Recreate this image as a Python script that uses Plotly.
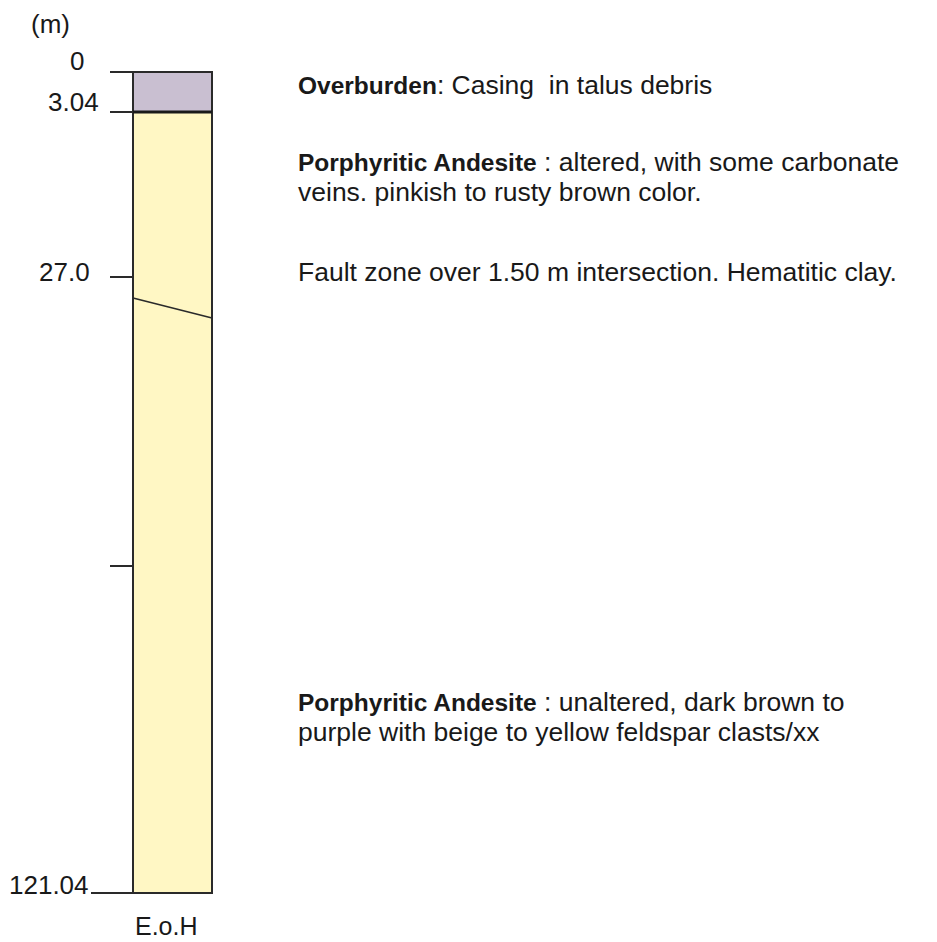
import plotly.graph_objects as go

# ---------------- data ----------------
# schematic log positions (drawing units down the hole) and their depth labels (m)
tick_pos = [0, 40, 205, 494, 821]
tick_labels = ["0", "3.04", "27.0", "", "121.04"]

# lithological units (top / base in schematic log units)
unit_names = ["Overburden", "Porphyritic Andesite"]
unit_top = [0, 40]
unit_base = [40, 821]
unit_colors = ["#c9bfd1", "#fff7c4"]

# fault trace across the column (left edge / right edge)
fault_x = [0, 1]
fault_y = [226, 246]

# descriptions: (log position of line, bold part, rest)
desc_pos = [13, 90, 120, 200, 630, 660]
desc_bold = ["Overburden", "Porphyritic Andesite", "", "", "Porphyritic Andesite", ""]
desc_text = [": Casing  in talus debris",
             " : altered, with some carbonate",
             "veins. pinkish to rusty brown color.",
             "Fault zone over 1.50 m intersection. Hematitic clay.",
             " : unaltered, dark brown to",
             "purple with beige to yellow feldspar clasts/xx"]

# ---------------- layout geometry (pixels) ----------------
W, H = 937, 942
PL, PR, PT, PB = 120, 225, 50, 915        # plot area
CL, CR, CT, CB = 133, 212, 72, 893         # column box
xu = CR - CL
x_range = [-(CL - PL) / xu, 1 + (PR - CR) / xu]
y_range = [PB - CT, PT - CT]               # reversed, 1 unit = 1 px


def px_x(px):
    return (px - PL) / (PR - PL)


def px_y(py):
    return (PB - py) / (PB - PT)


FONT = "Liberation Sans, Arial, Helvetica, sans-serif"
INK = "#191919"

fig = go.Figure()

for name, t, b, c in zip(unit_names, unit_top, unit_base, unit_colors):
    fig.add_trace(go.Bar(
        x=[0.5], y=[b - t], base=[t], width=1, name=name,
        marker=dict(color=c, line=dict(color="#2a2a2a", width=2)),
        hoverinfo="name"))

fig.add_trace(go.Scatter(x=fault_x, y=fault_y, mode="lines",
                         line=dict(color="#2a2a2a", width=1.6),
                         hoverinfo="skip"))

# emphasise the overburden base
fig.add_trace(go.Scatter(x=[0, 1], y=[unit_base[0], unit_base[0]], mode="lines",
                         line=dict(color="#1a1a1a", width=3), hoverinfo="skip"))

annotations = []
# depth labels
label_right = {"0": None, "3.04": 101, "27.0": 92, "121.04": 91}
label_shift = {"0": 11, "3.04": 10, "27.0": 5, "121.04": 8}
for p, lab in zip(tick_pos, tick_labels):
    if not lab:
        continue
    if label_right[lab] is None:
        ann = dict(x=px_x(77), xanchor="center")
    else:
        ann = dict(x=px_x(label_right[lab]), xanchor="right")
    ann.update(xref="paper", yref="y", y=p, yanchor="middle", yshift=label_shift[lab],
               text=lab, showarrow=False, font=dict(family=FONT, size=26, color=INK))
    annotations.append(ann)

annotations.append(dict(x=px_x(50), xanchor="center", xref="paper", yref="paper",
                        y=px_y(24), yanchor="middle", text="(m)", showarrow=False,
                        font=dict(family=FONT, size=26, color=INK)))
annotations.append(dict(x=px_x(166), xanchor="center", xref="paper", yref="paper",
                        y=px_y(926), yanchor="middle", text="E.o.H", showarrow=False,
                        font=dict(family=FONT, size=25, color=INK)))

for p, bpart, rest in zip(desc_pos, desc_bold, desc_text):
    txt = (f"<b><span style='font-size:24.5px'>{bpart}</span></b>" if bpart else "") + rest
    annotations.append(dict(x=px_x(296), xanchor="left", xref="paper", yref="y",
                            y=p, yanchor="middle", text=txt, showarrow=False,
                            font=dict(family=FONT, size=26.5, color=INK)))

fig.update_layout(
    width=W, height=H,
    margin=dict(l=PL, r=W - PR, t=PT, b=H - PB, pad=0),
    paper_bgcolor="white", plot_bgcolor="rgba(0,0,0,0)",
    showlegend=False, barmode="overlay", bargap=0,
    annotations=annotations,
    shapes=[dict(type="line", xref="paper", yref="y",
                 x0=px_x(91), x1=px_x(CL), y0=unit_base[-1], y1=unit_base[-1],
                 line=dict(color="#2a2a2a", width=1.8))],
    xaxis=dict(range=x_range, visible=False, fixedrange=True),
    yaxis=dict(range=y_range, anchor="free", position=px_x(CL),
               tickvals=tick_pos, ticktext=tick_labels, showticklabels=False,
               ticks="outside", ticklen=23, tickwidth=1.8, tickcolor="#2a2a2a",
               showgrid=False, zeroline=False, showline=False, fixedrange=True),
)

fig.write_html("out.html", config={"displayModeBar": False},
               post_script="document.body.style.margin='0';document.body.style.overflow='hidden';")
